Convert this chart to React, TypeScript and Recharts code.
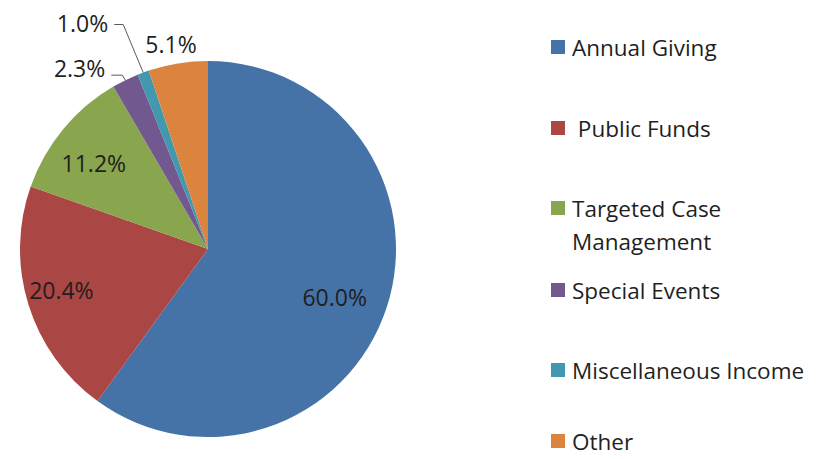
import { Cell, Legend, Pie, PieChart } from "recharts";

const categories = [
  "Annual Giving",
  " Public Funds",
  "Targeted Case Management",
  "Special Events",
  "Miscellaneous Income",
  "Other",
];
const shares = [60.0, 20.4, 11.2, 2.3, 1.0, 5.1];

const colors = ["#4573A7", "#AA4643", "#89A54E", "#71588F", "#4198AF", "#DB843D"];
const FONT = "'Open Sans', sans-serif";
const TEXT = "#1f1f1f";

const data = categories.map((name, i) => ({ name, value: shares[i] }));

// label placement per slice
const labelLayout = [
  { kind: "inside", r: 0.72, dx: -2, dy: 6 },
  { kind: "inside", r: 0.8, dx: -3, dy: -4 },
  { kind: "inside", r: 0.74, dx: -7, dy: 3 },
  { kind: "line", elbow: [-3, -5], run: 11, textDy: -7 },
  { kind: "line", elbow: [-20, -48], run: 9, textDy: -2 },
  { kind: "outside", r: 1.1, dx: -4, dy: -1 },
];

// legend row centres (y)
const legendRows = [47, 128, 208, 290, 370, 441];

const RAD = Math.PI / 180;
const polar = (cx: number, cy: number, r: number, angle: number) => ({
  x: cx + r * Math.cos(-angle * RAD),
  y: cy + r * Math.sin(-angle * RAD),
});

function renderLabel(props: any) {
  const { cx, cy, midAngle, outerRadius, index, value } = props;
  const text = `${Number(value).toFixed(1)}%`;
  const cfg: any = labelLayout[index];
  const style = { fontFamily: FONT, fontSize: 23, fill: TEXT };

  if (cfg.kind === "line") {
    const edge = polar(cx, cy, outerRadius, midAngle);
    const elbow = { x: edge.x + cfg.elbow[0], y: edge.y + cfg.elbow[1] };
    const endX = elbow.x - cfg.run;
    return (
      <g>
        <polyline
          points={`${edge.x},${edge.y} ${elbow.x},${elbow.y} ${endX},${elbow.y}`}
          fill="none"
          stroke="#595959"
          strokeWidth={1}
        />
        <text
          x={endX - 6}
          y={elbow.y + cfg.textDy}
          textAnchor="end"
          dominantBaseline="central"
          style={style}
        >
          {text}
        </text>
      </g>
    );
  }

  const p = polar(cx, cy, outerRadius * cfg.r, midAngle);
  return (
    <text
      x={p.x + cfg.dx}
      y={p.y + cfg.dy}
      textAnchor="middle"
      dominantBaseline="central"
      style={style}
    >
      {text}
    </text>
  );
}

function renderLegend() {
  const lh = 33;
  return (
    <div style={{ position: "relative", width: 288, height: 459 }}>
      {categories.map((name, i) => (
        <div
          key={name}
          style={{
            position: "absolute",
            left: 0,
            top: legendRows[i] - lh / 2,
            width: 288,
            fontFamily: FONT,
            fontSize: 22.5,
            lineHeight: `${lh}px`,
            color: TEXT,
          }}
        >
          <span
            style={{
              position: "absolute",
              left: 3,
              top: (lh - 14) / 2,
              width: 14,
              height: 14,
              background: colors[i],
            }}
          />
          <div style={{ marginLeft: 24, width: 255, whiteSpace: "pre-wrap" }}>
            {name}
          </div>
        </div>
      ))}
    </div>
  );
}

export default function App() {
  return (
    <div
      style={{
        position: "absolute",
        left: 0,
        top: 0,
        width: 836,
        height: 459,
        background: "#fff",
      }}
    >
      <PieChart width={836} height={459} margin={{ top: 0, right: 0, bottom: 0, left: 0 }}>
        <Pie
          data={data}
          dataKey="value"
          nameKey="name"
          cx={208}
          cy={249}
          outerRadius={188}
          startAngle={90}
          endAngle={-270}
          stroke="none"
          label={renderLabel}
          labelLine={false}
          isAnimationActive={false}
        >
          {data.map((d, i) => (
            <Cell key={d.name} fill={colors[i]} />
          ))}
        </Pie>
        <Legend
          layout="vertical"
          align="right"
          verticalAlign="top"
          content={renderLegend}
          wrapperStyle={{ left: 548, top: 0, width: 288, height: 459 }}
        />
      </PieChart>
    </div>
  );
}
